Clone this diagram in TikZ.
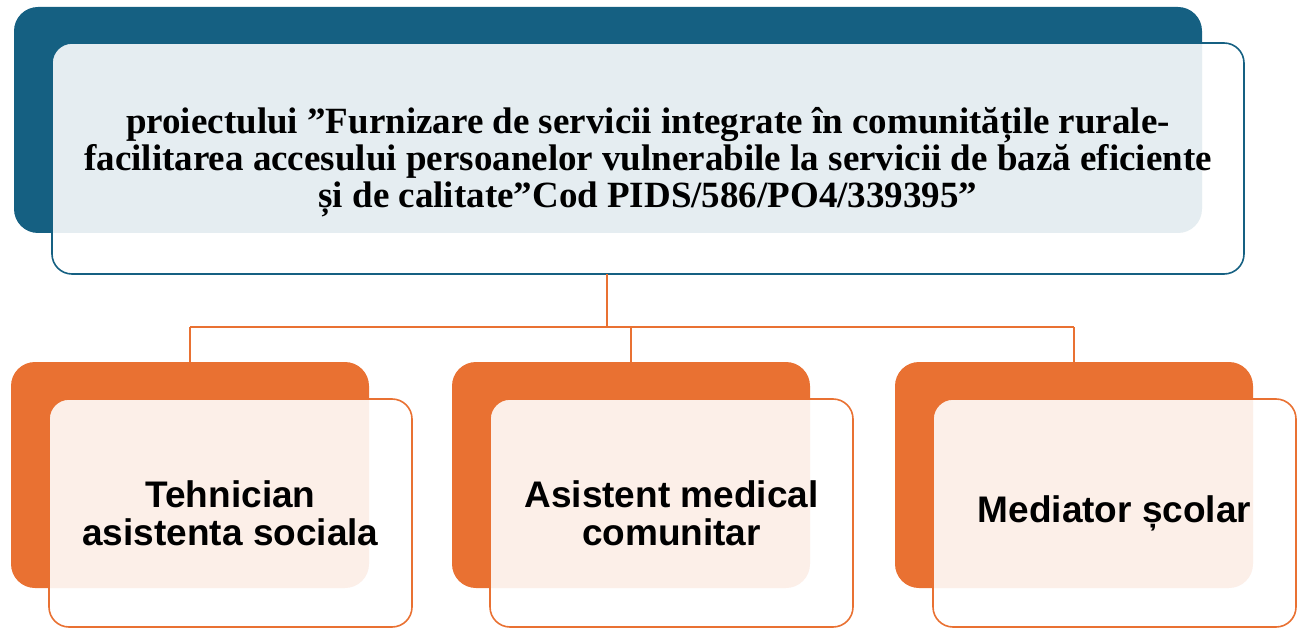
\documentclass[tikz,border=0pt]{standalone}
\usepackage{fontspec}
\setmainfont{Liberation Serif}
\newfontfamily\sansb{Liberation Sans}
\definecolor{tealc}{HTML}{156082}
\definecolor{orangec}{HTML}{E97132}
\begin{document}
\begin{tikzpicture}[x=1pt,y=-1pt,
  backbox/.style={rounded corners=24pt, outer sep=0pt, inner sep=0pt, anchor=north west},
  frontbox/.style={rounded corners=20pt, outer sep=0pt, inner sep=0pt, anchor=north west, fill=white, fill opacity=0.89, text opacity=1, line width=1.6pt},
  conn/.style={draw=orangec, line width=2pt},
  toptext/.style={font=\bfseries\fontsize{37}{37}\selectfont, align=center},
  boxtext/.style={font=\sansb\bfseries\fontsize{37}{38}\selectfont, align=center}
]
\useasboundingbox (0,0) rectangle (1303,628);
% top
\node[backbox, fill=tealc, minimum width=1188pt, minimum height=226pt] (tb) at (14,7) {};
% bottom back boxes
\node[backbox, fill=orangec, minimum width=358pt, minimum height=226pt] (b1) at (11,362) {};
\node[backbox, fill=orangec, minimum width=358pt, minimum height=226pt] (b2) at (452,362) {};
\node[backbox, fill=orangec, minimum width=358pt, minimum height=226pt] (b3) at (895,362) {};
% fronts
\node[frontbox, draw=tealc, minimum width=1192pt, minimum height=231pt] (tf) at (52,43) {};
\node[toptext] (tt) at ([yshift=-4pt]tf.center) {proiectului ”Furnizare de servicii integrate în comunitățile rurale-\\facilitarea accesului persoanelor vulnerabile la servicii de bază eficiente\\și de calitate”Cod PIDS/586/PO4/339395”};
\node[frontbox, draw=orangec, minimum width=363pt, minimum height=228pt] (f1) at (49,399) {};
\node[frontbox, draw=orangec, minimum width=363pt, minimum height=228pt] (f2) at (490,399) {};
\node[frontbox, draw=orangec, minimum width=363pt, minimum height=228pt] (f3) at (933,399) {};
\node[boxtext] (t1) at (f1.center) {Tehnician\\asistenta sociala};
\node[boxtext] (t2) at (f2.center) {Asistent medical\\comunitar};
\node[boxtext] (t3) at (f3.center) {Mediator școlar};
% connectors
\coordinate (j) at (607,327);
\draw[conn] (j |- tf.south) -- (j);
\draw[conn] (b1.north |- j) -- (b3.north |- j);
\draw[conn] (b1.north |- j) -- (b1.north);
\draw[conn] (b2.north |- j) -- (b2.north);
\draw[conn] (b3.north |- j) -- (b3.north);
\end{tikzpicture}
\end{document}
